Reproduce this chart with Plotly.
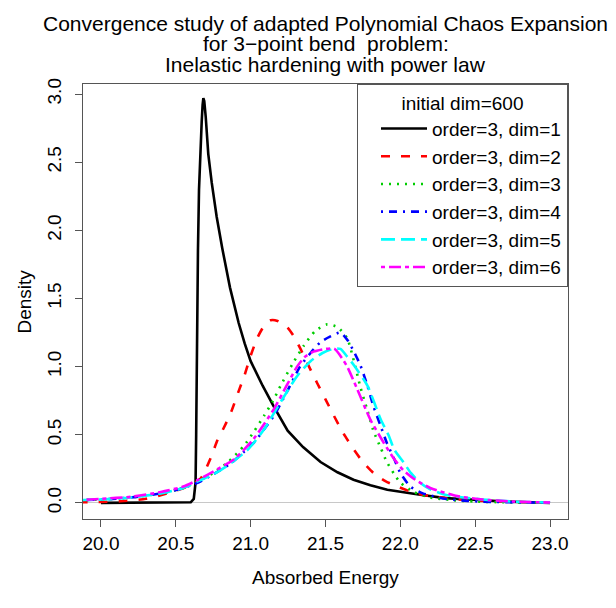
import plotly.graph_objects as go

# ---- data ----
x_dim1 = [20.0, 20.3, 20.55, 20.6, 20.62, 20.632, 20.636, 20.641, 20.648, 20.655, 20.664, 20.673,
          20.679, 20.684, 20.69, 20.70, 20.717, 20.74, 20.773, 20.81, 20.862, 20.92, 20.96, 21.0,
          21.08, 21.153, 21.247, 21.35, 21.467, 21.58, 21.687, 21.8, 21.913, 22.0, 22.133, 22.3,
          22.5, 22.7, 22.85, 23.0]
d_dim1 = [0.0, 0.0, 0.0, 0.005, 0.03, 0.15, 0.5, 1.3, 1.85, 2.3, 2.6, 2.8,
          2.92, 2.97, 2.95, 2.83, 2.56, 2.35, 2.10, 1.87, 1.58, 1.32, 1.17, 1.04,
          0.86, 0.71, 0.53, 0.41, 0.30, 0.225, 0.17, 0.13, 0.096, 0.08, 0.06, 0.035,
          0.02, 0.01, 0.005, 0.0]

x_dim2 = [19.85, 20.0, 20.13, 20.3, 20.41, 20.5, 20.6, 20.667, 20.733, 20.778, 20.82, 20.867, 20.92,
          20.96, 21.0, 21.044, 21.09, 21.133, 21.18, 21.244, 21.29, 21.333, 21.39, 21.444, 21.5,
          21.556, 21.62, 21.69, 21.75, 21.82, 21.9, 21.98, 22.09, 22.2, 22.31, 22.45, 22.6, 22.8, 23.0]
d_dim2 = [0.005, 0.008, 0.012, 0.03, 0.06, 0.09, 0.13, 0.18, 0.33, 0.46, 0.55, 0.66, 0.82,
          0.94, 1.08, 1.21, 1.30, 1.34, 1.335, 1.29, 1.22, 1.13, 1.0, 0.88, 0.76,
          0.64, 0.51, 0.39, 0.30, 0.22, 0.16, 0.12, 0.075, 0.05, 0.035, 0.02, 0.012, 0.006, 0.003]

x_dim3 = [19.85, 20.0, 20.2, 20.4, 20.55, 20.65, 20.75, 20.85, 20.956, 21.02, 21.09, 21.15, 21.2,
          21.28, 21.356, 21.43, 21.51, 21.58, 21.644, 21.69, 21.733, 21.78, 21.82, 21.87, 21.91,
          21.96, 22.0, 22.09, 22.2, 22.35, 22.5, 22.7, 23.0]
d_dim3 = [0.02, 0.025, 0.04, 0.07, 0.11, 0.16, 0.22, 0.30, 0.42, 0.52, 0.64, 0.75, 0.86,
          1.02, 1.155, 1.26, 1.31, 1.29, 1.21, 1.04, 0.85, 0.68, 0.53, 0.40, 0.30,
          0.21, 0.15, 0.08, 0.04, 0.02, 0.01, 0.005, 0.002]

x_dim4 = [19.85, 20.0, 20.2, 20.4, 20.55, 20.65, 20.75, 20.867, 20.95, 21.02, 21.09, 21.156, 21.24,
          21.33, 21.4, 21.467, 21.53, 21.6, 21.65, 21.69, 21.733, 21.78, 21.82, 21.87, 21.91,
          21.96, 22.0, 22.067, 22.15, 22.3, 22.45, 22.6, 22.8, 23.0]
d_dim4 = [0.02, 0.025, 0.04, 0.07, 0.11, 0.15, 0.21, 0.29, 0.37, 0.44, 0.54, 0.64, 0.81,
          1.0, 1.1, 1.18, 1.22, 1.25, 1.19, 1.11, 1.01, 0.86, 0.71, 0.56, 0.44,
          0.32, 0.22, 0.12, 0.07, 0.03, 0.015, 0.008, 0.004, 0.002]

x_dim5 = [19.85, 20.0, 20.2, 20.4, 20.55, 20.65, 20.75, 20.84, 20.98, 21.09, 21.2, 21.31, 21.4,
          21.48, 21.55, 21.6, 21.64, 21.69, 21.78, 21.87, 21.92, 21.96, 22.02, 22.07, 22.13,
          22.2, 22.3, 22.42, 22.55, 22.75, 23.0]
d_dim5 = [0.02, 0.025, 0.04, 0.07, 0.11, 0.16, 0.21, 0.27, 0.39, 0.54, 0.74, 0.93, 1.04,
          1.10, 1.13, 1.13, 1.08, 1.01, 0.86, 0.61, 0.50, 0.39, 0.30, 0.22, 0.15,
          0.10, 0.06, 0.04, 0.025, 0.01, 0.003]

x_dim6 = [19.85, 20.0, 20.2, 20.4, 20.55, 20.65, 20.75, 20.89, 21.02, 21.156, 21.24, 21.31, 21.36,
          21.42, 21.5, 21.56, 21.64, 21.71, 21.8, 21.89, 21.96, 22.02, 22.1, 22.2, 22.38,
          22.55, 22.75, 23.0]
d_dim6 = [0.02, 0.03, 0.045, 0.08, 0.12, 0.17, 0.23, 0.32, 0.47, 0.69, 0.86, 1.0, 1.07,
          1.11, 1.13, 1.13, 1.01, 0.84, 0.61, 0.44, 0.32, 0.24, 0.17, 0.11, 0.05,
          0.025, 0.01, 0.003]

series_names = ["order=3, dim=1", "order=3, dim=2", "order=3, dim=3",
                "order=3, dim=4", "order=3, dim=5", "order=3, dim=6"]
x_ticks = [20.0, 20.5, 21.0, 21.5, 22.0, 22.5, 23.0]
y_ticks = [0.0, 0.5, 1.0, 1.5, 2.0, 2.5, 3.0]

FONT = "Liberation Sans, Arial, Helvetica, sans-serif"

series = [
    (x_dim1, d_dim1, "black", "solid"),
    (x_dim2, d_dim2, "#ff0000", "9px,11px"),
    (x_dim3, d_dim3, "#00cd00", "2px,6px"),
    (x_dim4, d_dim4, "#0000ff", "2px,6px,8px,6px"),
    (x_dim5, d_dim5, "#00ffff", "14px,6px"),
    (x_dim6, d_dim6, "#ff00ff", "4px,4px,12px,4px"),
]

fig = go.Figure()
for (xs, ds, col, dash), name in zip(series, series_names):
    fig.add_trace(go.Scatter(
        x=xs, y=ds, mode="lines", name=name,
        line=dict(color=col, width=2.6, dash=dash,
                  shape="linear" if col == "black" else "spline", smoothing=0.6),
    ))

axis_common = dict(
    showgrid=False, showline=True, mirror=True, linecolor="#555555", linewidth=1,
    ticks="outside", ticklen=7, tickcolor="#555555", tickwidth=1, automargin=False,
    tickfont=dict(family=FONT, size=19, color="black"),
)

# page body has an 8px margin, so the figure is sized to fit the 616x608 window
fig.update_layout(
    width=608, height=600,
    margin=dict(l=75, r=48, t=76, b=89),
    paper_bgcolor="white", plot_bgcolor="white",
    font=dict(family=FONT, color="black"),
    xaxis=dict(range=[19.88, 23.12], tickvals=x_ticks,
               ticktext=[f"{v:.1f}" for v in x_ticks], zeroline=False, **axis_common),
    yaxis=dict(range=[-0.118, 3.074], tickvals=y_ticks,
               ticktext=[f"{v:.1f}" for v in y_ticks], tickangle=-90,
               zeroline=True, zerolinecolor="#c8c8c8", zerolinewidth=1,
               ticklabelstandoff=6, **axis_common),
    legend=dict(
        x=1, y=1, xanchor="right", yanchor="top",
        bgcolor="white", bordercolor="#555555", borderwidth=1,
        font=dict(family=FONT, size=19, color="black"),
        title=dict(text="initial dim=600", side="top center",
                   font=dict(family=FONT, size=19, color="black")),
        itemwidth=46, indentation=18, tracegroupgap=0,
    ),
    showlegend=True,
)

title_lines = ["Convergence study of adapted Polynomial Chaos Expansion",
               "for 3\u2212point bend  problem:",
               "Inelastic hardening with power law"]
title_y_px = [24, 44, 64]
for txt, py in zip(title_lines, title_y_px):
    fig.add_annotation(text=txt, xref="paper", yref="paper", x=0.5, y=(519 - py) / 435,
                       xanchor="center", yanchor="middle", showarrow=False,
                       font=dict(family=FONT, size=21, color="black"))

fig.add_annotation(text="Absorbed Energy", xref="paper", yref="paper", x=0.5,
                   y=(519 - 577) / 435, xanchor="center", yanchor="middle", showarrow=False,
                   font=dict(family=FONT, size=19, color="black"))
fig.add_annotation(text="Density", xref="paper", yref="paper", x=(24 - 83) / 485,
                   y=0.5, xanchor="center", yanchor="middle", textangle=-90, showarrow=False,
                   font=dict(family=FONT, size=19, color="black"))

fig.write_html("out.html")
